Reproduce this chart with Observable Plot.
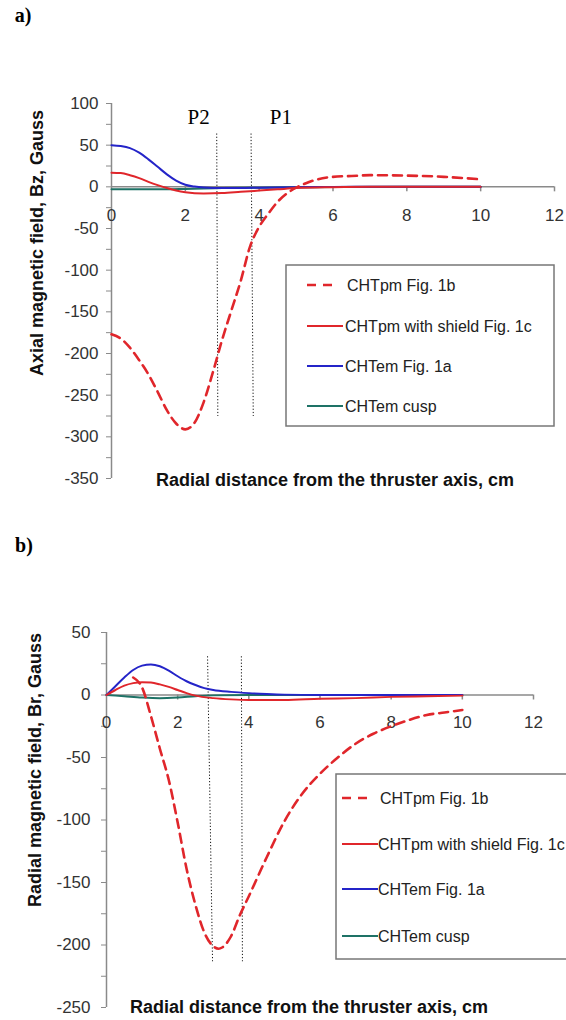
<!DOCTYPE html>
<html><head><meta charset="utf-8">
<script src="https://cdn.jsdelivr.net/npm/d3@7"></script>
<script src="https://cdn.jsdelivr.net/npm/@observablehq/plot@0.6"></script>
<style>
body{margin:0;background:#fff;}
#page{position:relative;width:566px;height:1020px;overflow:hidden;font-family:Arial,"Liberation Sans",sans-serif;background:#fff;}
.abs{position:absolute;white-space:nowrap;}
</style></head><body><div id="page"></div>
<script>
// ---------- shared ----------
const seriesNames = ["CHTpm Fig. 1b", "CHTpm with shield Fig. 1c", "CHTem Fig. 1a", "CHTem cusp"];
const seriesColors = ["#e0262b", "#e0262b", "#2424c8", "#1e7266"];
const seriesDashed = [true, false, false, false];
const xTicks = [0, 2, 4, 6, 8, 10, 12];

// ---------- panel a: Bz ----------
const pmX_a = [0,0.25,0.5,0.75,1,1.25,1.5,1.75,2,2.25,2.5,2.75,3,3.25,3.5,3.75,4,4.25,4.5,4.75,5,5.25,5.5,6,6.5,7,8,9,10];
const pmBz_a = [-177,-182,-193,-208,-225,-246,-268,-284,-291,-283,-258,-222,-183,-148,-113,-72,-48,-32,-18,-8,-1,4,8,12,13,14,13.5,12,9];
const shX_a = [0,0.25,0.5,0.75,1,1.25,1.5,1.75,2,2.5,3,3.5,4,4.5,5,6,7,8,9,10];
const shBz_a = [17,16.5,14,10.5,6,2,-1.5,-4.5,-6.5,-8,-7.5,-6,-4.5,-3,-1.5,-0.5,0,0,0,0];
const emX_a = [0,0.25,0.5,0.75,1,1.25,1.5,1.75,2,2.25,2.5,3,3.5,4,5,6,7,8,9,10];
const emBz_a = [50,49,46.5,41,33,24,15,7.5,2.5,0.3,-0.8,-1.5,-1.5,-1,-0.5,-0.2,0,0,0,0];
const cuX_a = [0,0.5,1,1.5,2,2.5,3,4,5,6,8,10];
const cuBz_a = [-3,-3,-3,-3,-2.5,-2,-1.5,-1,-0.6,-0.3,0,0];
const yTicks_a = [100,50,0,-50,-100,-150,-200,-250,-300,-350];
const yMinor_a = [75,25,-25,-75,-125,-175,-225,-275,-325];
const probeLines_a = [{x1:2.85,x2:2.88,y1:64,y2:-275},{x1:3.78,x2:3.84,y1:64,y2:-275}];
const probeLabels_a = [{x:2.36,y:84,text:"P2"},{x:4.59,y:84,text:"P1"}];

// ---------- panel b: Br ----------
const pmX_b = [0.75,1,1.25,1.5,1.75,2,2.25,2.5,2.75,3,3.15,3.25,3.5,3.75,4,4.5,5,5.5,6,6.5,7,7.5,8,8.5,9,9.5,10];
const pmBr_b = [14,6,-17,-43,-68,-102,-139,-168,-190,-201,-203,-202,-193,-176,-161,-130,-101,-79,-63,-50,-39,-31,-25,-20,-16,-14,-12];
const shX_b = [0,0.25,0.5,0.75,1,1.25,1.5,1.75,2,2.25,2.5,3,3.5,4,5,6,7,8,9,10];
const shBr_b = [0,4,7.5,9.5,10.3,10,8.5,6.5,4,1.5,-0.5,-2.5,-3.5,-4,-4,-3,-2.5,-1.5,-1,-0.5];
const emX_b = [0,0.25,0.5,0.75,1,1.25,1.5,1.75,2,2.25,2.5,2.75,3,3.5,4,4.5,5,6,7,8,9,10];
const emBr_b = [0,7,14,20,23.5,24.5,23,19.5,15,11,8,5.5,4,2.5,1.5,0.8,0.3,0,0,0,0,0];
const cuX_b = [0,0.5,1,1.5,2,2.5,3,4,5,10];
const cuBr_b = [0,-1,-2,-2.5,-2,-1,-0.3,0,0,0];
const yTicks_b = [50,0,-50,-100,-150,-200,-250];
const yMinor_b = [25,-25,-75,-125,-175,-225];
const probeLines_b = [{x1:2.84,x2:2.98,y1:31,y2:-213},{x1:3.79,x2:3.82,y1:31,y2:-213}];

const page = document.getElementById("page");
const zip = (xs, ys) => xs.map((x, i) => ({x, y: ys[i]}));

function panel(o) {
  const series = [zip(o.pm[0], o.pm[1]), zip(o.sh[0], o.sh[1]), zip(o.em[0], o.em[1]), zip(o.cu[0], o.cu[1])];
  const axisColor = "#8a8a8a";
  const marks = [
    Plot.ruleX([0], {stroke: axisColor, strokeWidth: 1.5}),
    Plot.axisY(o.yTicks, {tickSize: 5, tickPadding: o.tickPadding, stroke: axisColor, fill: "#333", fontSize: 17, tickFormat: d => String(d), label: null}),
    Plot.axisY(o.yMinor, {tickSize: 5, stroke: axisColor, tickFormat: () => "", label: null}),
    Plot.ruleY([0], {stroke: axisColor, strokeWidth: 1.5}),
    Plot.ruleX(xTicks.slice(1), {x: d => d, y1: 0, y2: 0, insetBottom: -5, stroke: axisColor, strokeWidth: 1.5}),
    Plot.text(xTicks, {x: d => d, y: 0, dy: o.xLabelDy, text: d => String(d), fontSize: 17, fill: "#333"}),
    Plot.link(o.probeLines, {x1: "x1", x2: "x2", y1: "y1", y2: "y2", stroke: "#111", strokeWidth: 1, strokeDasharray: "1.2,2"})
  ];
  if (o.probeLabels) marks.push(Plot.text(o.probeLabels, {x: "x", y: "y", text: "text", fontFamily: "'Liberation Serif','Times New Roman',serif", fontSize: 21, fill: "#000"}));
  [3, 2, 1, 0].forEach(i => {
    marks.push(Plot.line(series[i], {x: "x", y: "y", stroke: seriesColors[i], strokeWidth: seriesDashed[i] ? 2.6 : 2,
      strokeDasharray: seriesDashed[i] ? "9,6" : null, curve: "monotone-x"}));
  });
  const svg = Plot.plot({
    width: 566, height: o.height,
    marginLeft: o.marginLeft, marginRight: o.marginRight, marginTop: o.marginTop, marginBottom: o.marginBottom,
    x: {domain: [0, 12], axis: null}, y: {domain: o.yDomain, axis: null},
    style: {fontFamily: "Arial, 'Liberation Sans', sans-serif", background: "transparent", overflow: "visible"},
    marks
  });
  svg.style.position = "absolute";
  svg.style.left = "0px";
  svg.style.top = o.top + "px";
  page.appendChild(svg);
}

panel({top: 0, height: 500, marginLeft: 111, marginRight: 12, marginTop: 103, marginBottom: 22,
  yDomain: [-350, 100], yTicks: yTicks_a, yMinor: yMinor_a, tickPadding: 8, xLabelDy: 29,
  pm: [pmX_a, pmBz_a], sh: [shX_a, shBz_a], em: [emX_a, emBz_a], cu: [cuX_a, cuBz_a],
  probeLines: probeLines_a, probeLabels: probeLabels_a});

panel({top: 520, height: 500, marginLeft: 106, marginRight: 33, marginTop: 112, marginBottom: 13,
  yDomain: [-250, 50], yTicks: yTicks_b, yMinor: yMinor_b, tickPadding: 11, xLabelDy: 28,
  pm: [pmX_b, pmBr_b], sh: [shX_b, shBr_b], em: [emX_b, emBr_b], cu: [cuX_b, cuBr_b],
  probeLines: probeLines_b});

// ---------- text labels ----------
function label(text, cx, cy, css, rot) {
  const d = document.createElement("div");
  d.className = "abs";
  d.textContent = text;
  d.style.left = cx + "px";
  d.style.top = cy + "px";
  d.style.transform = "translate(-50%,-50%)" + (rot ? " rotate(-90deg)" : "");
  Object.assign(d.style, css);
  page.appendChild(d);
}
const panelTag = {fontFamily: "'Liberation Serif','Times New Roman',serif", fontWeight: "bold", fontSize: "20px", color: "#000"};
label("a)", 23, 15, panelTag);
label("b)", 24, 545, panelTag);
const titleCss = {fontWeight: "bold", fontSize: "18px", color: "#111"};
label("Radial distance from the thruster axis, cm", 335, 480, titleCss);
label("Radial distance from the thruster axis, cm", 309, 1007, titleCss);
const yTitleCss = {fontWeight: "bold", fontSize: "18px", color: "#111"};
label("Axial magnetic field, Bz, Gauss", 37, 243, yTitleCss, true);
label("Radial magnetic field, Br, Gauss", 35, 770, yTitleCss, true);

// ---------- legends ----------
function legend(box, rows, lineX, dashEnd, textX) {
  const ns = "http://www.w3.org/2000/svg";
  const svg = document.createElementNS(ns, "svg");
  svg.setAttribute("width", 566); svg.setAttribute("height", 1020);
  svg.style.position = "absolute"; svg.style.left = "0"; svg.style.top = "0";
  const r = document.createElementNS(ns, "rect");
  r.setAttribute("x", box.x); r.setAttribute("y", box.y); r.setAttribute("width", box.w); r.setAttribute("height", box.h);
  r.setAttribute("fill", "#fff"); r.setAttribute("stroke", "#777"); r.setAttribute("stroke-width", 1.5);
  svg.appendChild(r);
  seriesNames.forEach((name, i) => {
    const l = document.createElementNS(ns, "line");
    l.setAttribute("x1", lineX[0]); l.setAttribute("x2", seriesDashed[i] ? dashEnd : lineX[1]);
    l.setAttribute("y1", rows[i]); l.setAttribute("y2", rows[i]);
    l.setAttribute("stroke", seriesColors[i]); l.setAttribute("stroke-width", seriesDashed[i] ? 2.6 : 2.2);
    if (seriesDashed[i]) l.setAttribute("stroke-dasharray", "9,7");
    svg.appendChild(l);
    const t = document.createElementNS(ns, "text");
    t.setAttribute("x", seriesDashed[i] ? textX + 2 : textX); t.setAttribute("y", rows[i]);
    t.setAttribute("dy", "0.35em"); t.setAttribute("font-size", 16);
    t.setAttribute("font-family", "Arial, 'Liberation Sans', sans-serif"); t.setAttribute("fill", "#222");
    t.textContent = name;
    svg.appendChild(t);
  });
  page.appendChild(svg);
}
legend({x: 286, y: 265, w: 268, h: 161}, [285, 326, 366, 406], [307, 343], 333, 345);
legend({x: 336, y: 774, w: 260, h: 185}, [798, 844, 889, 936], [342, 378], 370, 378);
</script></body></html>
